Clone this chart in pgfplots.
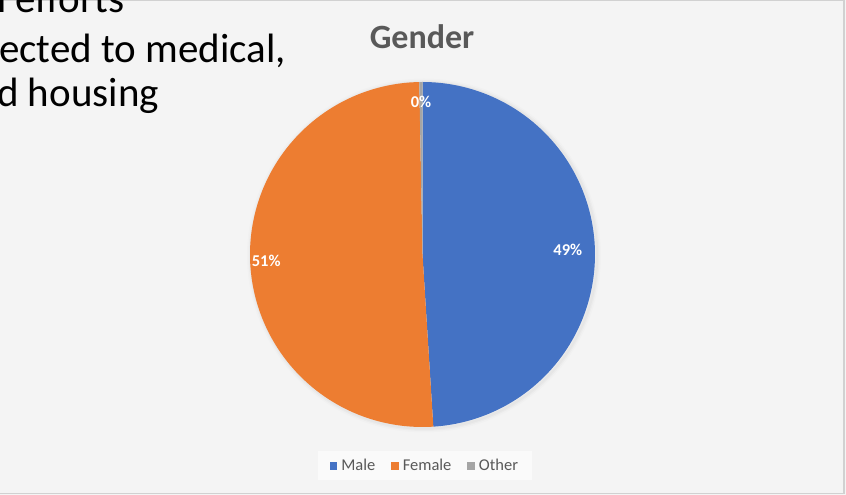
\documentclass[border=0pt]{standalone}
\usepackage{pgfplots}
\usepackage{pgfplotstable}
\pgfplotsset{compat=1.18}
\usepackage{fontspec}
\setmainfont{Carlito}
\definecolor{cMale}{HTML}{4472C4}
\definecolor{cFemale}{HTML}{ED7D31}
\definecolor{cOther}{HTML}{A5A5A5}
\definecolor{bg}{HTML}{F4F4F4}
\definecolor{legbg}{HTML}{FAFAFA}
\definecolor{txtgray}{HTML}{595959}

\pgfplotstableread{
label value
Male 49.0
Female 50.7
Other 0.3
}\gendertable

\begin{document}
\begin{tikzpicture}[x=1pt,y=1pt]
\useasboundingbox (0pt,0pt) rectangle (846pt,495pt);
\clip (0pt,0pt) rectangle (846pt,495pt);
\fill[bg] (0pt,0pt) rectangle (846pt,495pt);
\draw[black!18, line width=1.2pt] (0pt,494.6pt) -- (844pt,494.6pt) -- (844pt,1.8pt) -- (0pt,1.8pt);

% cut-off slide text
\node[anchor=base west, inner sep=0pt, font=\fontsize{41}{48}\selectfont] at (-3pt,482pt) {\llap{additiona}l efforts};
\node[anchor=base west, inner sep=0pt, font=\fontsize{41}{48}\selectfont] at (-1pt,432pt) {\llap{dir}ected to medical,};
\node[anchor=base west, inner sep=0pt, font=\fontsize{41}{48}\selectfont] at (-3pt,388pt) {\llap{an}d housing};

% title
\node[anchor=base, inner sep=0pt, text=txtgray, font=\bfseries\fontsize{34}{40}\selectfont] at (422pt,446pt) {Gender};

\pgfplotstablegetelem{0}{value}\of\gendertable \pgfmathsetmacro\vA{\pgfplotsretval}
\pgfplotstablegetelem{1}{value}\of\gendertable \pgfmathsetmacro\vB{\pgfplotsretval}
\pgfplotstablegetelem{2}{value}\of\gendertable \pgfmathsetmacro\vC{\pgfplotsretval}
\pgfmathsetmacro\aA{90-3.6*\vA}
\pgfmathsetmacro\aB{\aA-3.6*\vB}
\pgfmathsetmacro\aC{\aB-3.6*\vC}
\pgfmathsetmacro\mA{(90+\aA)/2}
\pgfmathsetmacro\mB{(\aA+\aB)/2}
\pgfmathsetmacro\mC{(\aB+\aC)/2}
\pgfmathtruncatemacro\pA{round(\vA)}
\pgfmathtruncatemacro\pB{round(\vB)}
\pgfmathtruncatemacro\pC{round(\vC)}

% soft shadow
\foreach \w/\o in {8/0.012,5/0.018,2.5/0.025}{
  \draw[black, opacity=\o, line width=\w pt] (424pt,239.5pt) circle (173pt);
}

\begin{axis}[
  scale only axis, width=345pt, height=345pt,
  at={(422.5pt,240.5pt)}, anchor=center,
  xmin=-1, xmax=1, ymin=-1, ymax=1,
  hide axis, clip=false,
  legend style={at={(0.507,-0.1125)}, anchor=center, draw=none, fill=legbg,
    text=txtgray, font=\fontsize{16.5}{20}\selectfont, legend columns=3,
    inner xsep=12pt, inner ysep=6pt,
    /tikz/every even column/.append style={column sep=14pt},
    /tikz/every odd column/.append style={column sep=2pt}},
  legend image code/.code={\fill[#1,draw=none] (0pt,-3.8pt) rectangle (7.5pt,3.8pt);},
]
\addplot[fill=cMale, draw=none, domain=\aA:90, samples=120] ({cos(x)},{sin(x)}) -- (axis cs:0,0) -- cycle;
\addlegendentry{Male}
\addplot[fill=cFemale, draw=none, domain=\aB:\aA, samples=120] ({cos(x)},{sin(x)}) -- (axis cs:0,0) -- cycle;
\addlegendentry{Female}
\addplot[fill=cOther, draw=none, domain=\aC:\aB, samples=4] ({cos(x)},{sin(x)}) -- (axis cs:0,0) -- cycle;
\addlegendentry{Other}

\node[text=white, font=\bfseries\fontsize{16.5}{20}\selectfont] at (axis cs:{0.843*cos(\mA)},{0.843*sin(\mA)}) {\pA\%};
\node[text=white, font=\bfseries\fontsize{16.5}{20}\selectfont] at (axis cs:{0.907*cos(\mB)},{0.907*sin(\mB)}) {\pB\%};
\node[text=white, font=\bfseries\fontsize{16.5}{20}\selectfont] at (axis cs:{0.884*cos(\mC)},{0.884*sin(\mC)}) {\pC\%};
\end{axis}
\end{tikzpicture}
\end{document}
